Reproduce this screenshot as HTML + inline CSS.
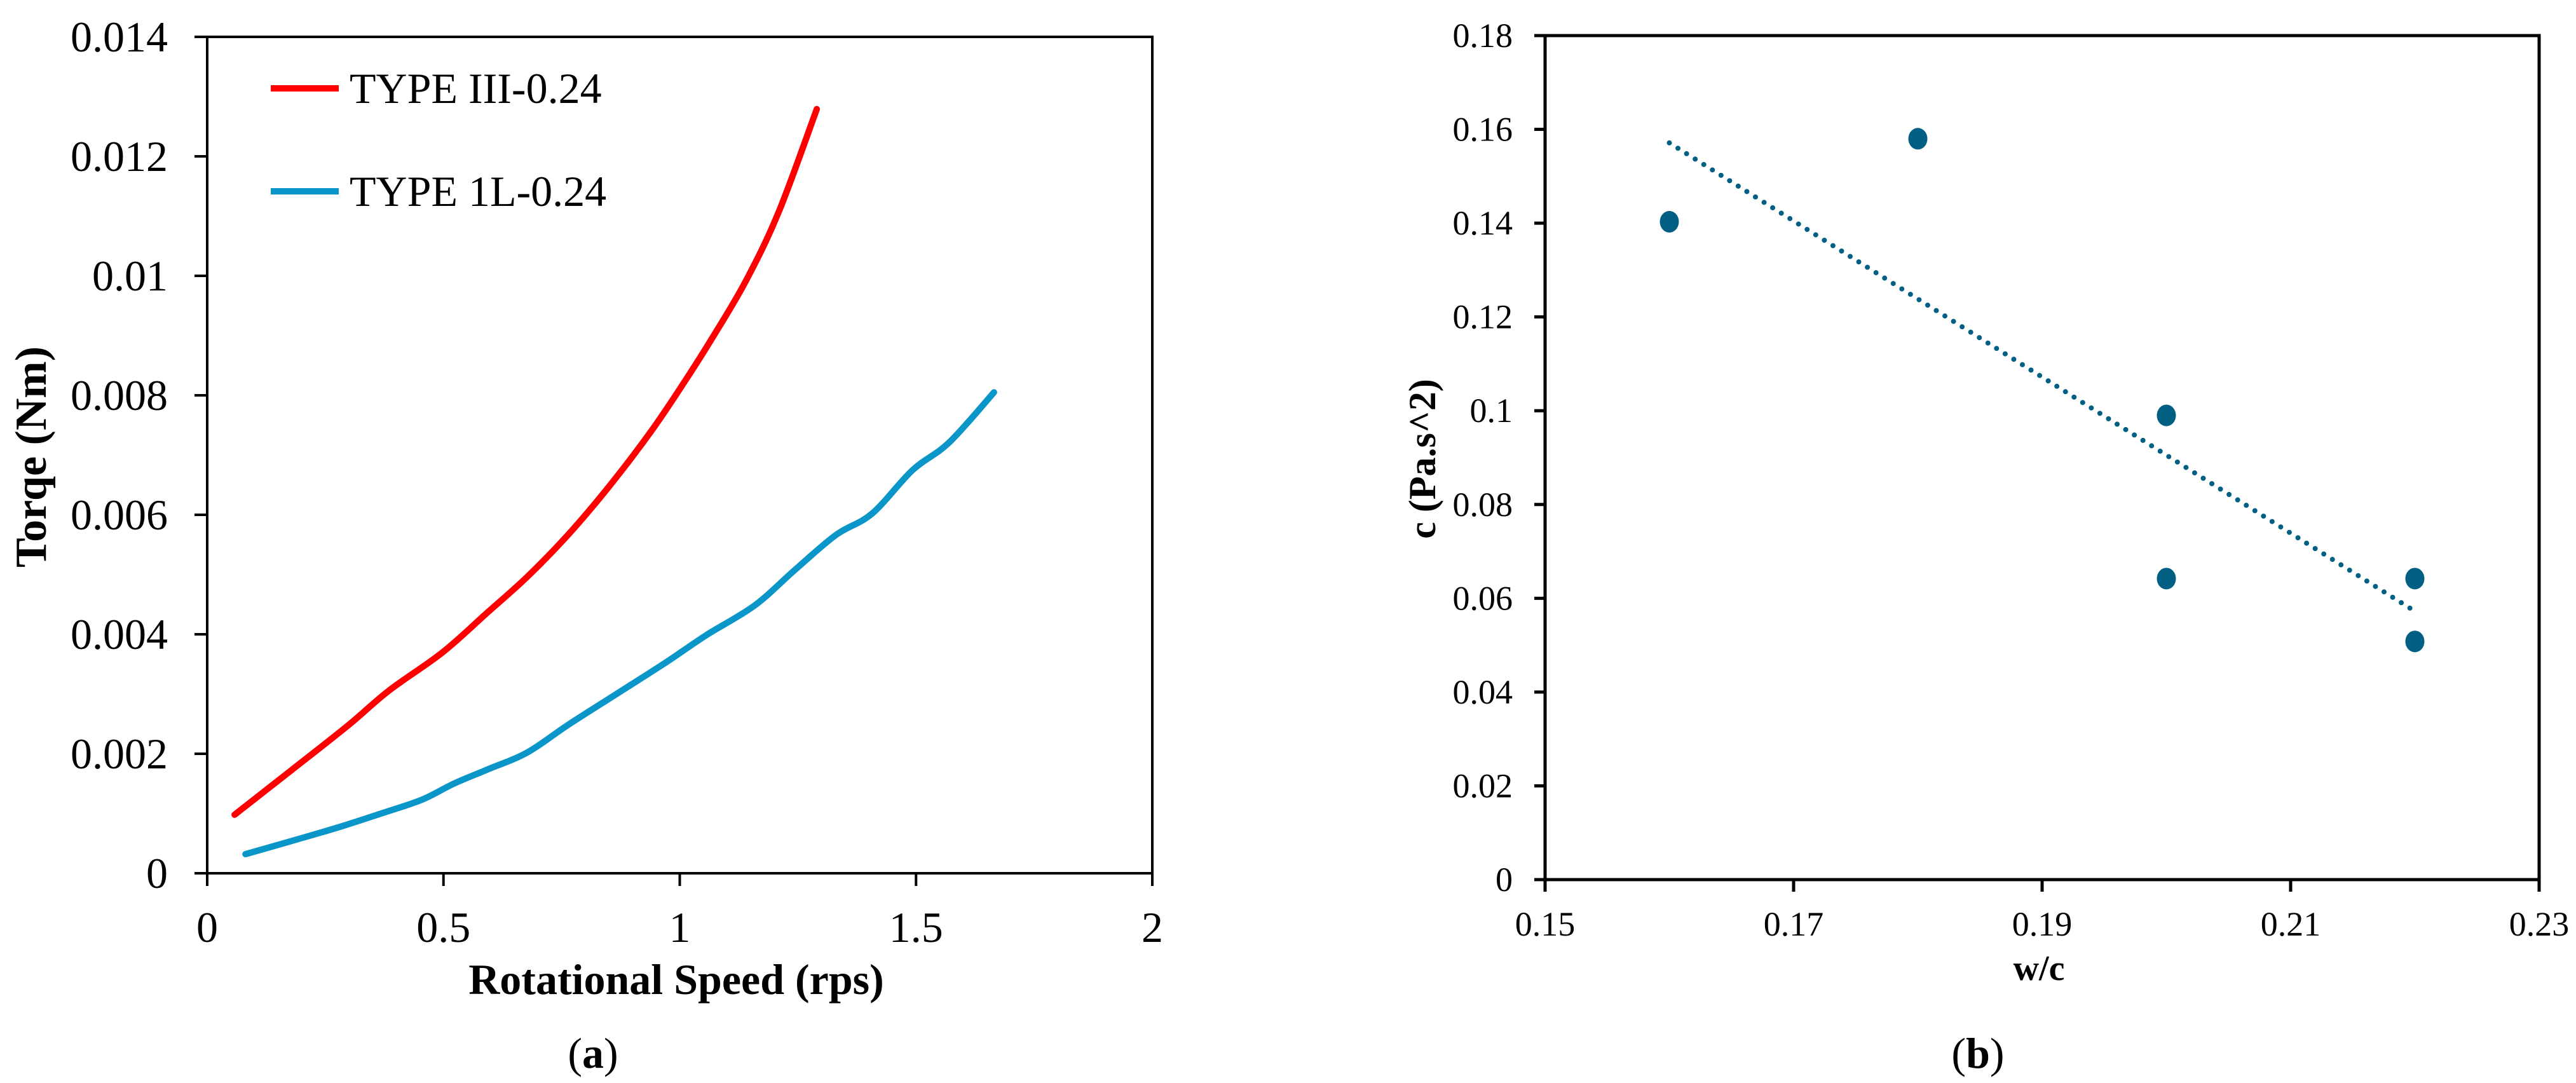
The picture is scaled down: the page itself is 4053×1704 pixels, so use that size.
<!DOCTYPE html>
<html><head><meta charset="utf-8"><style>
html,body{margin:0;padding:0;background:#fff;}
svg{display:block;}
text{font-family:"Liberation Serif","Times New Roman",serif;fill:#000;}
</style></head><body>
<svg id="fig" width="4053" height="1704" viewBox="0 0 4053 1704" xmlns="http://www.w3.org/2000/svg"></svg>
<script>
// ---- Chart (a) data ----
const redX = [0.058,0.179,0.299,0.385,0.497,0.591,0.677,0.763,0.849,0.935,1.003,1.072,1.141,1.21,1.29];
const redY = [0.00098,0.00173,0.00248,0.00306,0.00369,0.00435,0.00496,0.00566,0.00646,0.00735,0.00814,0.0090,0.00993,0.01108,0.01279];
const blueX = [0.081,0.196,0.282,0.368,0.454,0.522,0.591,0.677,0.763,0.866,0.969,1.055,1.158,1.244,1.33,1.407,1.493,1.57,1.665];
const blueY = [0.00032,0.00058,0.00078,0.0010,0.00123,0.0015,0.00173,0.00202,0.00248,0.0030,0.00352,0.00398,0.00448,0.00508,0.00566,0.00602,0.00675,0.00721,0.00805];
const aXTicks = [0,0.5,1,1.5,2];
const aXTickLabels = ["0","0.5","1","1.5","2"];
const aYTicks = [0,0.002,0.004,0.006,0.008,0.01,0.012,0.014];
const aYTickLabels = ["0","0.002","0.004","0.006","0.008","0.01","0.012","0.014"];
// ---- Chart (b) data ----
const bX = [0.16,0.18,0.20,0.20,0.22,0.22];
const bY = [0.1403,0.158,0.099,0.0642,0.0642,0.0508];
const bXTicks = [0.15,0.17,0.19,0.21,0.23];
const bXTickLabels = ["0.15","0.17","0.19","0.21","0.23"];
const bYTicks = [0,0.02,0.04,0.06,0.08,0.1,0.12,0.14,0.16,0.18];
const bYTickLabels = ["0","0.02","0.04","0.06","0.08","0.1","0.12","0.14","0.16","0.18"];

const NS="http://www.w3.org/2000/svg";
const svg=document.getElementById('fig');
function el(tag,attrs,parent){const e=document.createElementNS(NS,tag);for(const k in attrs)e.setAttribute(k,attrs[k]);(parent||svg).appendChild(e);return e;}

const aL=326,aR=1813,aT=58,aB=1374;
const ax=v=>aL+(v-0)/(2-0)*(aR-aL);
const ay=v=>aB-(v-0)/(0.014-0)*(aB-aT);
const bL=2431,bR=3995,bT=56,bB=1384;
const bx=v=>bL+(v-0.15)/(0.23-0.15)*(bR-bL);
const by=v=>bB-(v-0)/(0.18-0)*(bB-bT);

// ===== Chart A =====
const gA=el('g',{});


let frameA=el('rect',{x:aL,y:aT,width:aR-aL,height:aB-aT,fill:'none',stroke:'#000','stroke-width':4},gA);


aYTicks.forEach((v,i)=>{
  const t=el('line',{x1:aL-20,x2:aL,y1:ay(v),y2:ay(v),stroke:'#000','stroke-width':4},gA);
  
  
  const l=el('text',{x:aL-62,y:ay(v)+23,'text-anchor':'end','font-size':68},gA);
  l.textContent=aYTickLabels[i];
  
  
});
aXTicks.forEach((v,i)=>{
  const t=el('line',{x1:ax(v),x2:ax(v),y1:aB,y2:aB+20,stroke:'#000','stroke-width':4},gA);
  
  
  const l=el('text',{x:ax(v),y:1482,'text-anchor':'middle','font-size':68},gA);
  l.textContent=aXTickLabels[i];
  
  
});
function curve(xs,ys,color,name,g){
  const P=xs.map((x,i)=>[ax(x),ay(ys[i])]);
  let d='M'+P[0][0].toFixed(1)+','+P[0][1].toFixed(1);
  for(let i=0;i<P.length-1;i++){
    const p0=P[Math.max(0,i-1)],p1=P[i],p2=P[i+1],p3=P[Math.min(P.length-1,i+2)];
    const c1=[p1[0]+(p2[0]-p0[0])/6,p1[1]+(p2[1]-p0[1])/6];
    const c2=[p2[0]-(p3[0]-p1[0])/6,p2[1]-(p3[1]-p1[1])/6];
    d+=' C'+c1[0].toFixed(1)+','+c1[1].toFixed(1)+' '+c2[0].toFixed(1)+','+c2[1].toFixed(1)+' '+p2[0].toFixed(1)+','+p2[1].toFixed(1);
  }
  const p=el('path',{d:d,fill:'none',stroke:color,'stroke-width':10,'stroke-linecap':'round','stroke-linejoin':'round'},g);
  
  
}
curve(redX,redY,'#ff0000','type-iii-curve',gA);
curve(blueX,blueY,'#0a96c8','type-1l-curve',gA);
let lg=el('g',{},gA);


let l1=el('line',{x1:426,x2:533,y1:139,y2:139,stroke:'#ff0000','stroke-width':10},lg);


let t1=el('text',{x:550,y:162,'font-size':68},lg);t1.textContent='TYPE III-0.24';


let l2=el('line',{x1:426,x2:533,y1:301,y2:301,stroke:'#0a96c8','stroke-width':10},lg);


let t2=el('text',{x:550,y:324,'font-size':68},lg);t2.textContent='TYPE 1L-0.24';


let xtA=el('text',{x:1064,y:1564,'text-anchor':'middle','font-size':68,'font-weight':'bold'},gA);
xtA.textContent='Rotational Speed (rps)';


let ytA=el('text',{x:0,y:0,'text-anchor':'middle','font-size':70,'font-weight':'bold',transform:'translate(72,719) rotate(-90)'},gA);
ytA.textContent='Torqe (Nm)';


let capA=el('text',{x:933,y:1680,'text-anchor':'middle','font-size':68},gA);
capA.innerHTML='(<tspan font-weight="bold">a</tspan>)';



// ===== Chart B =====
const gB=el('g',{});


let frameB=el('rect',{x:bL,y:bT,width:bR-bL,height:bB-bT,fill:'none',stroke:'#000','stroke-width':5},gB);


bYTicks.forEach((v,i)=>{
  const t=el('line',{x1:bL-17,x2:bL,y1:by(v),y2:by(v),stroke:'#000','stroke-width':5},gB);
  
  
  const l=el('text',{x:2380,y:by(v)+18,'text-anchor':'end','font-size':54},gB);
  l.textContent=bYTickLabels[i];
  
  
});
bXTicks.forEach((v,i)=>{
  const t=el('line',{x1:bx(v),x2:bx(v),y1:bB,y2:bB+19,stroke:'#000','stroke-width':5},gB);
  
  
  const l=el('text',{x:bx(v),y:1472,'text-anchor':'middle','font-size':54},gB);
  l.textContent=bXTickLabels[i];
  
  
});
const n=bX.length, mx=bX.reduce((a,b)=>a+b,0)/n, my=bY.reduce((a,b)=>a+b,0)/n;
let sxx=0,sxy=0;for(let i=0;i<n;i++){sxx+=(bX[i]-mx)**2;sxy+=(bX[i]-mx)*(bY[i]-my);}
const slope=sxy/sxx, icpt=my-slope*mx;
const xmin=Math.min(...bX), xmax=Math.max(...bX);
let tr=el('line',{x1:bx(xmin),y1:by(slope*xmin+icpt),x2:bx(xmax),y2:by(slope*xmax+icpt),stroke:'#005f82','stroke-width':8,'stroke-linecap':'round','stroke-dasharray':'0 16'},gB);


bX.forEach((x,i)=>{
  const c=el('ellipse',{cx:bx(x),cy:by(bY[i]),rx:15,ry:17,fill:'#005f82'},gB);
  
  
});
let xtB=el('text',{x:3208,y:1542,'text-anchor':'middle','font-size':56,'font-weight':'bold'},gB);
xtB.textContent='w/c';


let ytB=el('text',{x:0,y:0,'text-anchor':'middle','font-size':60,'font-weight':'bold',transform:'translate(2258,722) rotate(-90)'},gB);
ytB.textContent='c (Pa.s^2)';


let capB=el('text',{x:3112,y:1680,'text-anchor':'middle','font-size':68},gB);
capB.innerHTML='(<tspan font-weight="bold">b</tspan>)';


</script>
</body></html>
